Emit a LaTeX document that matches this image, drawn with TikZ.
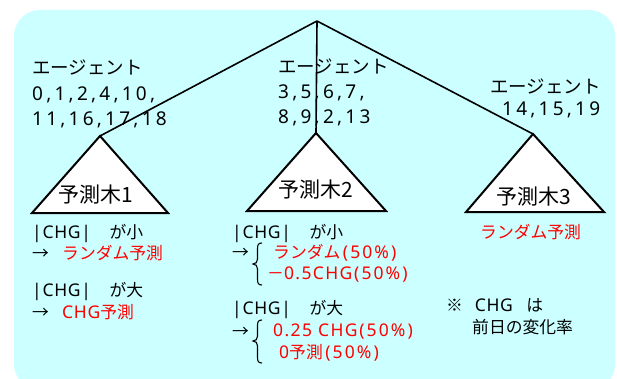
\documentclass[tikz,border=0pt]{standalone}
\usepackage{fontspec}
\setmainfont{Noto Sans CJK JP}
\newfontfamily\ltd[LetterSpace=17]{Noto Sans}
\newfontfamily\ltc[LetterSpace=4]{Noto Sans}
\newfontfamily\ltr[LetterSpace=8]{Noto Sans}
\newfontfamily\ltn[LetterSpace=12]{Noto Sans}
\newcommand\Dg[1]{{\fontsize{19}{20}\ltd #1}}
\newcommand\Lc[1]{{\fontsize{17.5}{18}\ltc #1}}
\newcommand\Lr[1]{{\fontsize{17.5}{18}\ltr #1}}
\newcommand\Ln[1]{{\fontsize{17.5}{18}\ltn #1}}
\definecolor{bgcyan}{HTML}{CCFFFF}
\definecolor{myred}{HTML}{FF0000}
\begin{document}
\begin{tikzpicture}[x=1pt,y=-1pt,
  lbl/.style={anchor=base west,inner sep=0pt},
  top/.style={lbl,font=\fontsize{18.5}{20}\selectfont},
  bot/.style={lbl,font=\fontsize{16.8}{18}\selectfont},
  tri/.style={draw=black,fill=white,line width=2pt,line join=miter},
  branch/.style={draw=black,line width=1.6pt},
  brc/.style={draw=black,line width=1.1pt},
  rd/.style={text=myred}]
\useasboundingbox (0,0) rectangle (617,379);
\begin{scope}
\clip (0,0) rectangle (617,379);
\fill[bgcyan,rounded corners=26pt] (14,10) rectangle (615,390);
\end{scope}
% apex and triangle tops
\coordinate (apex) at (317,21);
\coordinate (t1) at (100,136);
\coordinate (t2) at (316,133);
\coordinate (t3) at (533,134);
% agent labels
\node[top] (a1) at (32,75) {エージェント};
\node[top] (a1n1) at (32,101) {\Dg{0,1,2,4,10,}};
\node[top] (a1n2) at (32,126) {\Dg{11,16,17,18}};
\node[top] (a2) at (278,74) {エージェント};
\node[top] (a2n1) at (278,99) {\Dg{3,5,6,7,}};
\node[top] (a2n2) at (278,124) {\Dg{8,9,2,13}};
\node[top] (a3) at (490,94) {エージェント};
\node[top] (a3n1) at (502,116) {\Dg{14,15,19}};
% branches
\draw[branch] (apex) -- (t1);
\draw[branch] (apex) -- (t2);
\draw[branch] (apex) -- (t3);
% triangles
\draw[tri] (t1) -- (32,213) -- (168,213) -- cycle;
\draw[tri] (t2) -- (247,211) -- (386,211) -- cycle;
\draw[tri] (t3) -- (466,212) -- (604,212) -- cycle;
\node[font=\fontsize{21}{22}\selectfont,inner sep=0pt] (p1) at (96,195) {予測木1};
\node[font=\fontsize{21}{22}\selectfont,inner sep=0pt] (p2) at (316,190) {予測木2};
\node[font=\fontsize{21}{22}\selectfont,inner sep=0pt] (p3) at (534,197) {予測木3};
% left texts
\node[bot] (l1) at (32,238) {\Lc{|CHG|}\hspace{1.1em}が小};
\node[bot] (l2) at (32,259) {→};
\node[bot,rd] (l2r) at (62,259) {ランダム予測};
\node[bot] (l3) at (32,296) {\Lc{|CHG|}\hspace{1.1em}が大};
\node[bot] (l4) at (32,318) {→};
\node[bot,rd] (l4r) at (62,318) {\Lc{CHG}予測};
% middle texts
\node[bot] (m1) at (232,238) {\Lc{|CHG|}\hspace{1.1em}が小};
\node[bot] (m2) at (232,258) {→};
\node[bot,rd] (m2a) at (273,258) {ランダム\hspace{0.15em}\Ln{(50\%)}};
\node[bot,rd] (m2b) at (267,279) {－\Lr{0.5CHG}\hspace{0.1em}\Ln{(50\%)}};
\node[bot] (m3) at (232,314) {\Lc{|CHG|}\hspace{1.1em}が大};
\node[bot] (m4) at (232,337) {→};
\node[bot,rd] (m4a) at (273,336) {\Lr{0.25 CHG}\hspace{0.1em}\Ln{(50\%)}};
\node[bot,rd] (m4b) at (279,358) {\Ln{0}予測\hspace{0.15em}\Ln{(50\%)}};
% braces
\draw[brc] (262,243) .. controls (258,243) and (257.5,245) .. (257.5,249)
  -- (257.5,259) .. controls (257.5,262) and (256,264) .. (253,264)
  .. controls (256,264) and (257.5,266) .. (257.5,269)
  -- (257.5,279) .. controls (257.5,283) and (258,285) .. (262,285);
\draw[brc] (262,320) .. controls (258,320) and (257.5,322) .. (257.5,326)
  -- (257.5,336) .. controls (257.5,339) and (256,341) .. (253,341)
  .. controls (256,341) and (257.5,343) .. (257.5,346)
  -- (257.5,357) .. controls (257.5,361) and (258,363) .. (262,363);
% right texts
\node[bot,rd] (r1) at (480,238) {ランダム予測};
\node[bot] (r2) at (446,311) {※\hspace{0.7em}\Lc{CHG}\hspace{0.8em}は};
\node[bot] (r3) at (472,333) {前日の変化率};
\end{tikzpicture}
\end{document}
